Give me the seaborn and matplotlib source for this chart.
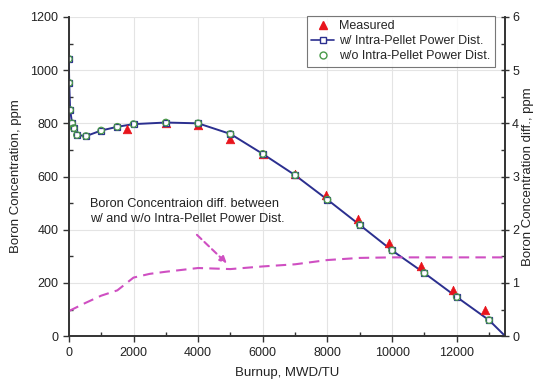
import numpy as np
import pandas as pd
import matplotlib
matplotlib.use("Agg")
import matplotlib.pyplot as plt
from matplotlib.ticker import MultipleLocator
from matplotlib.lines import Line2D
import seaborn as sns

# Calculated boron letdown curve (burnup in MWD/TU, boron in ppm)
calc_burnup = [0, 10, 40, 100, 150, 250, 530, 1000, 1500, 2000, 3000, 4000,
               5000, 6000, 7000, 8000, 9000, 10000, 11000, 12000, 13000]
calc_with = [1042, 952, 850, 800, 782, 756, 752, 773, 787, 797, 803, 800,
             760, 685, 605, 513, 418, 322, 237, 147, 60]
calc_without = [1042, 952, 850, 800, 782, 756, 752, 773, 787, 797, 803, 800,
                760, 685, 605, 513, 418, 322, 237, 147, 60]
curve_end_burnup = 13500
curve_end_boron = 0

# Measured boron concentration
meas_burnup = [1800, 3000, 4000, 5000, 6000, 7000, 7950, 8950, 9900, 10900, 11870, 12870]
meas_boron = [778, 800, 795, 740, 686, 610, 530, 440, 350, 263, 175, 98]

# Difference between the two calculations (right axis)
diff_burnup = [0, 500, 1000, 1500, 2000, 2500, 3000, 4000, 5000, 6000, 7000,
               8000, 9000, 10000, 11000, 12000, 13000, 13500]
diff_ppm = [0.47, 0.62, 0.76, 0.86, 1.10, 1.17, 1.21, 1.28, 1.26, 1.31, 1.35,
            1.43, 1.47, 1.48, 1.48, 1.48, 1.48, 1.48]

sns.set_style("ticks")
plt.rcParams["font.family"] = ["Liberation Sans", "DejaVu Sans"]
plt.rcParams["font.size"] = 9

fig = plt.figure(figsize=(5.38, 3.85), dpi=100)
ax = fig.add_axes([0.128, 0.127, 0.811, 0.829])
ax2 = ax.twinx()

blue = "#2b2f8f"
green = "#4a9a4a"
red = "#e8141c"
magenta = "#cf4fc2"

line_df = pd.DataFrame({"burnup": calc_burnup + [curve_end_burnup],
                        "boron": calc_with + [curve_end_boron]})
sns.lineplot(data=line_df, x="burnup", y="boron", ax=ax, color=blue,
             linewidth=1.4, estimator=None, sort=False, zorder=3)
sns.lineplot(x=calc_burnup, y=calc_with, ax=ax, color=blue, linewidth=0,
             marker="s", markersize=5, markerfacecolor="white",
             markeredgecolor=blue, markeredgewidth=0.9, estimator=None,
             zorder=4)
sns.scatterplot(x=meas_burnup, y=meas_boron, ax=ax, marker="^", s=38,
                color=red, edgecolor=red, linewidth=0.5, zorder=3.5)
sns.scatterplot(x=calc_burnup, y=calc_without, ax=ax, marker="o", s=22,
                facecolor="none", edgecolor=green, linewidth=0.9, zorder=5)

sns.lineplot(x=diff_burnup, y=diff_ppm, ax=ax2, color=magenta,
             linewidth=1.5, linestyle=(0, (5, 3)), estimator=None, zorder=2)

ax.set_xlim(0, 13500)
ax.set_ylim(0, 1200)
ax2.set_ylim(0, 6)

ax.xaxis.set_major_locator(MultipleLocator(2000))
ax.xaxis.set_minor_locator(MultipleLocator(1000))
ax.yaxis.set_major_locator(MultipleLocator(200))
ax.yaxis.set_minor_locator(MultipleLocator(100))
ax2.yaxis.set_major_locator(MultipleLocator(1))
ax2.yaxis.set_minor_locator(MultipleLocator(0.5))

ax.grid(True, which="major", color="#e4e4e4", linewidth=0.8)
ax.set_axisbelow(True)

for a in (ax, ax2):
    a.spines["top"].set_visible(False)
    for s in a.spines.values():
        s.set_color("#333333")
        s.set_linewidth(1.2)
ax.tick_params(which="major", direction="out", length=4, width=1, colors="#333333", labelcolor="#222222")
ax.tick_params(which="minor", direction="in", length=3, width=1, colors="#333333")
ax2.tick_params(which="major", direction="inout", length=6, width=1, pad=2,
                colors="#333333", labelcolor="#222222")
ax2.tick_params(which="minor", direction="in", length=3, width=1, colors="#333333")

ax.set_xlabel("Burnup, MWD/TU", fontsize=9.5, color="#222222", labelpad=6)
ax.set_ylabel("Boron Concentration, ppm", fontsize=9.5, color="#222222", labelpad=6)
ax2.set_ylabel("Boron Concentration diff., ppm", fontsize=9.5, color="#222222", labelpad=2)

ax2.annotate("", xy=(4950, 1.33), xytext=(3900, 1.94),
             arrowprops=dict(arrowstyle="-|>", color=magenta, lw=1.5,
                             linestyle=(0, (3, 2)), mutation_scale=10))
ax.text(650, 518, "Boron Concentraion diff. between\nw/ and w/o Intra-Pellet Power Dist.",
        fontsize=9.2, color="#222222", va="top", ha="left", linespacing=1.3)

handles = [
    Line2D([], [], color=red, marker="^", linestyle="none", markersize=6),
    Line2D([], [], color=blue, marker="s", markerfacecolor="white",
           markeredgecolor=blue, markersize=5, linewidth=1.2),
    Line2D([], [], color=green, marker="o", markerfacecolor="none",
           linestyle="none", markersize=5),
]
labels = ["Measured", "w/ Intra-Pellet Power Dist.", "w/o Intra-Pellet Power Dist."]
leg = ax2.legend(handles, labels, loc="upper right", bbox_to_anchor=(0.99, 1.024),
                 fontsize=9, frameon=True, fancybox=False, edgecolor="#555555",
                 handlelength=1.8, borderpad=0.35, labelspacing=0.25, handletextpad=0.4)
leg.get_frame().set_linewidth(0.8)

fig.savefig("out.png", dpi=100)
